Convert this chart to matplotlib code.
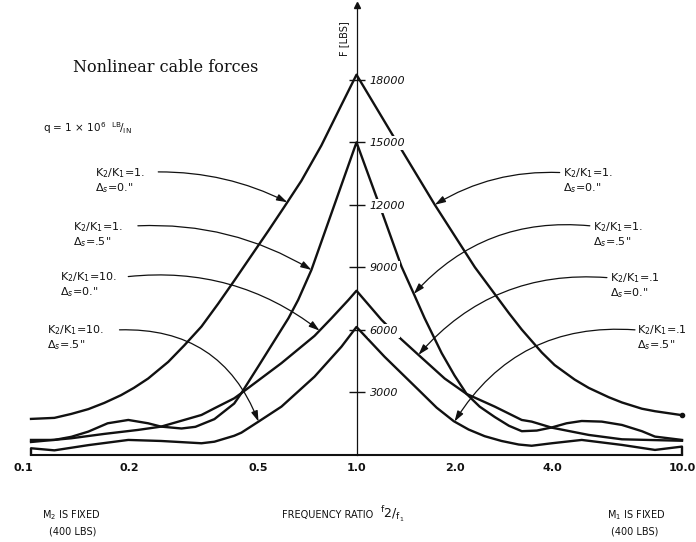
import numpy as np
import matplotlib.pyplot as plt
import matplotlib.transforms as mtransforms
from matplotlib.ticker import NullFormatter

# values: frequency ratio f2/f1 vs cable force (lbs)
# curve A: K2/K1=1, ds=0  (tallest peak)
ratio_a = [0.1, 0.118, 0.133, 0.15, 0.168, 0.189, 0.207, 0.229, 0.264, 0.296, 0.334, 0.376,
           0.421, 0.475, 0.536, 0.60, 0.677, 0.78, 0.899, 1.0,
           1.28, 1.55, 1.74, 2.31, 2.94, 3.22, 3.71, 4.06, 4.68, 5.17, 5.96, 6.54, 7.53,
           8.26, 10.0]
force_a = [1710, 1760, 1950, 2180, 2480, 2850, 3200, 3650, 4450, 5250, 6150, 7250,
           8350, 9550, 10750, 11900, 13150, 14850, 16800, 18250,
           15450, 13300, 12000, 9000, 6790, 6000, 4900, 4300, 3600, 3200, 2750, 2500, 2200,
           2080, 1890]

# curve B: K2/K1=1, ds=.5 (15000 peak, wavy tails)
ratio_b = [0.1, 0.118, 0.133, 0.15, 0.172, 0.199, 0.229, 0.251, 0.29, 0.32, 0.366, 0.421,
           0.443, 0.50, 0.618, 0.662, 0.727, 1.0,
           1.194, 1.375, 1.497, 1.619, 1.827, 2.0, 2.179, 2.39, 2.66, 2.94, 3.22, 3.58, 3.98,
           4.42, 4.92, 5.67, 6.54, 7.53, 8.26, 10.0]
force_b = [700, 700, 850, 1100, 1500, 1660, 1500, 1340, 1250, 1330, 1700, 2450,
           2950, 4250, 6550, 7430, 8870, 15000,
           11700, 9030, 7750, 6550, 4870, 3800, 2910, 2300, 1800, 1380, 1120, 1150, 1300,
           1500, 1610, 1580, 1420, 1120, 860, 700]

# curve C: K2/K1=10 (left) / .1 (right), ds=0
ratio_c = [0.1, 0.133, 0.168, 0.213, 0.251, 0.334, 0.366, 0.421, 0.443, 0.588, 0.743, 0.838,
           0.945, 1.0, 1.194, 1.346, 1.552, 1.866, 2.179, 2.66, 3.218, 3.453, 3.98, 5.17,
           6.54, 10.0]
force_c = [600, 780, 990, 1180, 1340, 1900, 2220, 2700, 2950, 4390, 5700, 6550,
           7430, 7870, 6470, 5660, 4780, 3650, 2910, 2300, 1660, 1580, 1290, 940,
           730, 660]

# curve D: K2/K1=10 (left) / .1 (right), ds=.5 (lowest)
ratio_d = [0.1, 0.1, 0.118, 0.15, 0.199, 0.251, 0.334, 0.366, 0.421, 0.443, 0.50, 0.588,
           0.743, 0.899, 1.0, 1.219, 1.552, 1.763, 1.99, 2.21, 2.476, 2.79, 3.149, 3.453,
           3.98, 4.92, 6.54, 8.26, 10.0, 10.0]
force_d = [0, 300, 200, 450, 700, 650, 540, 615, 900, 1050, 1580, 2300,
           3740, 5180, 6130, 4700, 3100, 2250, 1600, 1200, 880, 650, 480, 420,
           540, 700, 460, 220, 380, 0]

x_ticks = [0.1, 0.2, 0.5, 1.0, 2.0, 4.0, 10.0]
x_tick_labels = ["0.1", "0.2", "0.5", "1.0", "2.0", "4.0", "10.0"]
x_marks = [0.2, 0.5, 2.0, 4.0]
y_ticks = [3000, 6000, 9000, 12000, 15000, 18000]

left_k = [r"K$_2$/K$_1$=1.", r"K$_2$/K$_1$=1.", r"K$_2$/K$_1$=10.", r"K$_2$/K$_1$=10."]
left_ds = [r'$\Delta_s$=0."', r'$\Delta_s$=.5"', r'$\Delta_s$=0."', r'$\Delta_s$=.5"']
right_k = [r"K$_2$/K$_1$=1.", r"K$_2$/K$_1$=1.", r"K$_2$/K$_1$=.1", r"K$_2$/K$_1$=.1"]
right_ds = [r'$\Delta_s$=0."', r'$\Delta_s$=.5"', r'$\Delta_s$=0."', r'$\Delta_s$=.5"']

W, H = 696, 542
ink = "#111111"


def px(x, y):
    # pixel position in the picture -> figure fraction
    return x / W, 1 - y / H


def curve_at(xs, ys, x):
    return np.interp(np.log10(x), np.log10(xs), ys)


fig = plt.figure(figsize=(W / 100, H / 100), dpi=100)
ax = fig.add_axes([31 / W, (H - 454.5) / H, 651 / W, 449.5 / H])
ax.set_xscale("log")
ax.set_xlim(0.1, 10)
ax.set_ylim(0, 21600)
ax.set_axisbelow(False)  # tick labels sit on top and break the curves, like the drawing

curves = [(ratio_a, force_a), (ratio_b, force_b), (ratio_c, force_c), (ratio_d, force_d)]
for xs, ys in curves:
    ax.plot(xs, ys, color=ink, lw=1.7, clip_on=False, solid_joinstyle="round")
ax.plot(ratio_a[-1], force_a[-1], "o", color=ink, ms=3, clip_on=False)

# axes: bottom baseline, vertical force axis at f2/f1 = 1
ax.spines["top"].set_visible(False)
ax.spines["left"].set_visible(False)
ax.spines["bottom"].set_linewidth(1.5)
ax.spines["bottom"].set_color(ink)
ax.spines["right"].set_position(("data", 1.0))
ax.spines["right"].set_linewidth(0.9)
ax.spines["right"].set_color(ink)
ax.plot(1.0, 21600, marker="^", ms=5, color=ink, clip_on=False)

ax.yaxis.set_ticks_position("right")
ax.set_yticks(y_ticks, labels=[str(v) for v in y_ticks])
ax.tick_params(axis="y", direction="inout", length=11, width=1.0, pad=4,
               labelsize=8, colors=ink)
for lbl in ax.get_yticklabels():
    lbl.set_fontstyle("italic")
    lbl.set_bbox(dict(facecolor="white", edgecolor="none", pad=1.5))

ax.set_xticks(x_ticks, labels=x_tick_labels)
ax.set_xticks(x_marks, minor=True)
ax.xaxis.set_minor_formatter(NullFormatter())
ax.tick_params(axis="x", which="major", length=0, pad=6, labelsize=8, colors=ink)
ax.tick_params(axis="x", which="minor", direction="in", length=5.5, width=1.0, colors=ink)
for lbl in ax.get_xticklabels():
    lbl.set_fontweight("bold")
shift = mtransforms.ScaledTranslation(-8 / 100, 0, fig.dpi_scale_trans)
ax.get_xticklabels()[0].set_transform(ax.get_xticklabels()[0].get_transform() + shift)

# labels with leader arrows
left_pos = [(95, 173), (73, 227), (60, 277), (47, 330)]
left_start = [(0.246, 13580), (0.213, 10990), (0.199, 8550), (0.187, 5990)]
left_target = [0.613, 0.727, 0.77, 0.50]
left_rad = [-0.12, -0.15, -0.2, -0.35]
right_pos = [(563, 173), (593, 227), (610, 278), (637, 330)]
right_start = [(4.21, 13550), (5.21, 10990), (5.88, 8500), (7.17, 5990)]
right_target = [1.74, 1.50, 1.55, 2.0]
right_rad = [0.15, 0.25, 0.25, 0.3]

for side in [(left_pos, left_start, left_target, left_rad, left_k, left_ds),
             (right_pos, right_start, right_target, right_rad, right_k, right_ds)]:
    pos, start, target, rad, ks, dss = side
    for i in range(4):
        xs, ys = curves[i]
        tx = target[i]
        ax.annotate("", xy=(tx, curve_at(xs, ys, tx)), xytext=start[i],
                    arrowprops=dict(arrowstyle="-|>,head_length=0.7,head_width=0.22",
                                    mutation_scale=9, lw=0.9, color=ink,
                                    shrinkA=0, shrinkB=0,
                                    connectionstyle="arc3,rad=%s" % rad[i]),
                    annotation_clip=False)
        x0, y0 = pos[i]
        fig.text(*px(x0, y0), ks[i], fontsize=8, color=ink, va="center", ha="left")
        fig.text(*px(x0, y0 + 15), dss[i], fontsize=8, color=ink, va="center", ha="left")

fig.text(*px(166, 67), "Nonlinear cable forces", family="DejaVu Serif", fontsize=11.5,
         color=ink, ha="center", va="center")
fig.text(*px(43, 128), r"q = 1 $\times$ 10$^6$  $^{\rm LB}\!/_{\rm IN}$", fontsize=7.5,
         color=ink, ha="left", va="center")
fig.text(*px(344, 39), "F [LBS]", rotation=90, fontsize=7, color=ink,
         ha="center", va="center")

fig.text(*px(71, 515), r"M$_2$ IS FIXED", fontsize=7, color=ink, ha="center", va="center")
fig.text(*px(73, 531), "(400 LBS)", fontsize=7, color=ink, ha="center", va="center")
fig.text(*px(636, 515), r"M$_1$ IS FIXED", fontsize=7, color=ink, ha="center", va="center")
fig.text(*px(635, 531), "(400 LBS)", fontsize=7, color=ink, ha="center", va="center")
fig.text(*px(328, 515), "FREQUENCY RATIO", fontsize=7, color=ink, ha="center", va="center")
fig.text(*px(380, 514), r"$^{\rm f}2/_{{\rm f}_1}$", fontsize=9, color=ink,
         ha="left", va="center")

fig.savefig("out.png", dpi=100, facecolor="white")
